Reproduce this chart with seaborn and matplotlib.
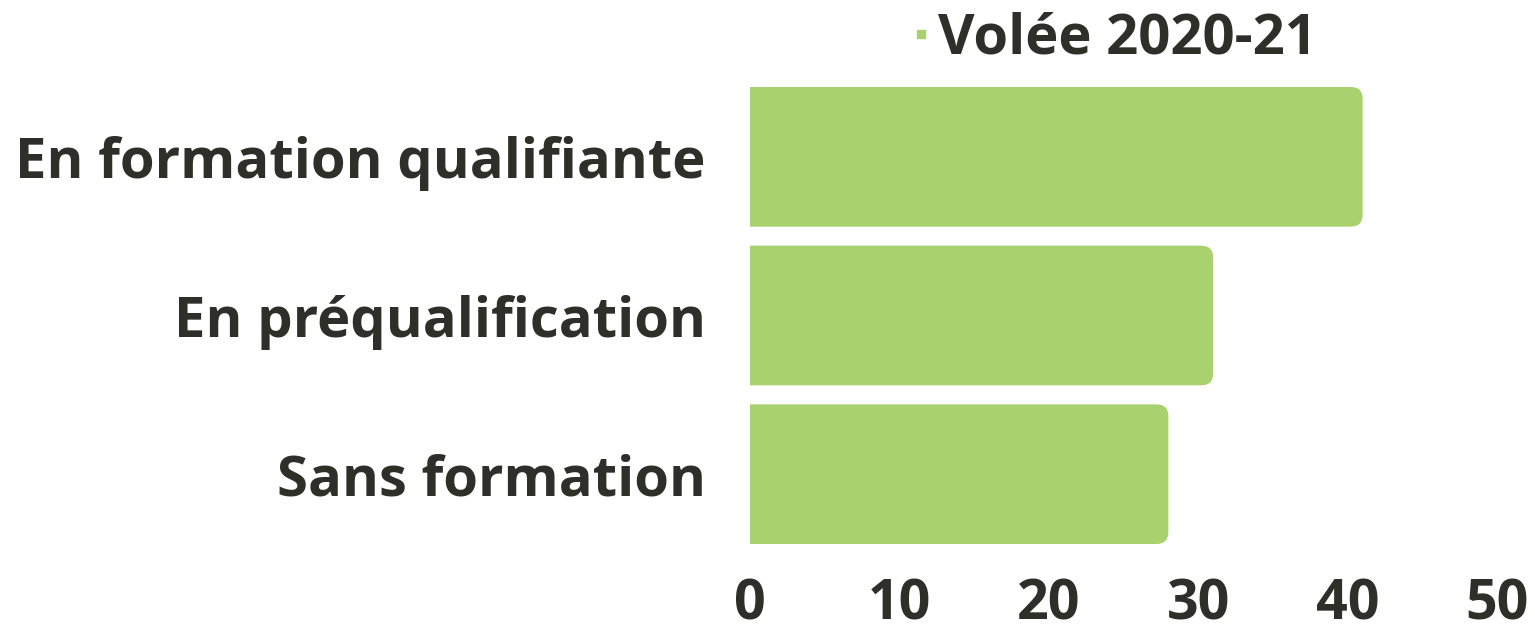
import matplotlib
matplotlib.use("Agg")
import matplotlib.pyplot as plt
from matplotlib.patches import FancyBboxPatch
from matplotlib.lines import Line2D
import seaborn as sns
import pandas as pd

# Data
categories = ["En formation qualifiante", "En préqualification", "Sans formation"]
values = [41, 31, 28]
series_name = "Volée 2020-21"
x_ticks = [0, 10, 20, 30, 40, 50]

bar_color = "#A9D16E"
text_color = "#2F2F2A"

sns.set_theme(style="white")
plt.rcParams['font.family'] = ['Open Sans', 'DejaVu Sans']

df = pd.DataFrame({"Catégorie": categories, "Valeur": values, "Série": series_name})

fig = plt.figure(figsize=(15.35, 6.31), dpi=100)
ax = fig.add_axes([0.4886, 0.1228, 0.4867, 0.7544])

sns.barplot(data=df, x="Valeur", y="Catégorie", color=bar_color,
            saturation=1, width=0.88, ax=ax)

ax.set_xlim(0, 50)
ax.set_ylim(2.5, -0.5)

# round the right-hand corners of the bars (left end is clipped at x=0)
r = 0.8
for bar in list(ax.patches):
    x, y, w, h = bar.get_x(), bar.get_y(), bar.get_width(), bar.get_height()
    bar.set_visible(False)
    ax.add_patch(FancyBboxPatch((x - r, y), w + r, h,
                                boxstyle=f"round,pad=0,rounding_size={r}",
                                mutation_aspect=0.094, facecolor=bar_color,
                                edgecolor="none", clip_on=True))

ax.set_xticks(x_ticks)
ax.set_xlabel("")
ax.set_ylabel("")
sns.despine(ax=ax, left=True, bottom=True)
ax.tick_params(axis="y", length=0, pad=32, labelsize=40.5, labelcolor=text_color)
ax.tick_params(axis="x", length=0, pad=17, labelsize=40, labelcolor=text_color)
for lbl in ax.get_yticklabels() + ax.get_xticklabels():
    lbl.set_fontweight("bold")

handle = Line2D([], [], linestyle="none", marker="s", markersize=6,
                color=bar_color)
leg = ax.legend([handle], [series_name], loc="upper center",
                bbox_to_anchor=(0.49, 1.245), frameon=False,
                handlelength=0.2, handletextpad=0.2,
                prop={"weight": "bold", "size": 40.5})
for t in leg.get_texts():
    t.set_color(text_color)

fig.savefig("out.png", dpi=100)
